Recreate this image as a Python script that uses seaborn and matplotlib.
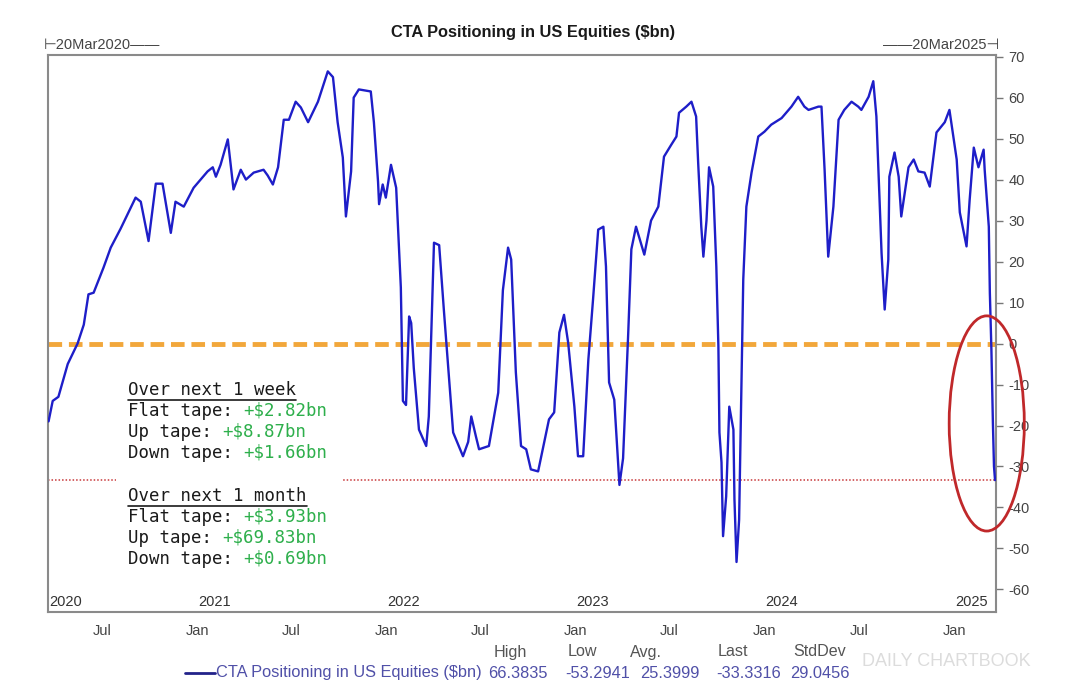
import matplotlib
matplotlib.use("Agg")
import matplotlib.pyplot as plt
import matplotlib.dates as mdates
from matplotlib.patches import Ellipse, Rectangle
import seaborn as sns
import pandas as pd

# CTA positioning, $bn
dates = [
    "2020-03-20", "2020-03-28", "2020-04-08", "2020-04-26", "2020-05-15", "2020-05-27",
    "2020-06-05", "2020-06-15", "2020-07-04", "2020-07-18", "2020-08-06", "2020-09-04",
    "2020-09-14", "2020-09-29", "2020-10-13", "2020-10-26", "2020-11-11", "2020-11-20",
    "2020-12-06", "2020-12-25", "2021-01-21", "2021-01-31", "2021-02-06", "2021-02-15",
    "2021-03-01", "2021-03-12", "2021-03-26", "2021-04-05", "2021-04-20", "2021-05-09",
    "2021-05-17", "2021-05-27", "2021-06-06", "2021-06-17", "2021-06-27", "2021-07-10",
    "2021-07-20", "2021-08-03", "2021-08-22", "2021-09-10", "2021-09-20", "2021-09-29",
    "2021-10-09", "2021-10-15", "2021-10-25", "2021-10-30", "2021-11-09", "2021-12-02",
    "2021-12-08", "2021-12-16", "2021-12-18", "2021-12-25", "2021-12-31", "2022-01-10",
    "2022-01-20", "2022-01-29", "2022-02-02", "2022-02-08", "2022-02-14", "2022-02-18",
    "2022-02-23", "2022-03-05", "2022-03-19", "2022-03-24", "2022-04-03", "2022-04-13",
    "2022-04-22", "2022-05-10", "2022-05-29", "2022-06-08", "2022-06-14", "2022-06-23",
    "2022-06-29", "2022-07-18", "2022-08-05", "2022-08-14", "2022-08-24", "2022-08-30",
    "2022-09-08", "2022-09-18", "2022-09-28", "2022-10-07", "2022-10-21", "2022-11-02",
    "2022-11-11", "2022-11-21", "2022-12-01", "2022-12-10", "2022-12-18", "2022-12-30",
    "2023-01-06", "2023-01-16", "2023-01-26", "2023-02-04", "2023-02-14", "2023-02-24",
    "2023-03-01", "2023-03-07", "2023-03-17", "2023-03-27", "2023-04-03", "2023-04-13",
    "2023-04-19", "2023-04-28", "2023-05-14", "2023-05-27", "2023-06-10", "2023-06-21",
    "2023-07-05", "2023-07-15", "2023-07-20", "2023-08-03", "2023-08-13", "2023-08-22",
    "2023-08-26", "2023-09-01", "2023-09-05", "2023-09-11", "2023-09-16", "2023-09-24",
    "2023-09-30", "2023-10-04", "2023-10-06", "2023-10-10", "2023-10-13", "2023-10-19",
    "2023-10-25", "2023-11-02", "2023-11-04", "2023-11-08", "2023-11-13", "2023-11-17",
    "2023-11-21", "2023-11-27", "2023-12-07", "2023-12-20", "2024-01-01", "2024-01-14",
    "2024-02-03", "2024-02-22", "2024-03-06", "2024-03-18", "2024-03-26", "2024-04-14",
    "2024-04-20", "2024-04-26", "2024-05-03", "2024-05-13", "2024-05-23", "2024-06-03",
    "2024-06-17", "2024-06-30", "2024-07-06", "2024-07-20", "2024-07-29", "2024-08-04",
    "2024-08-14", "2024-08-20", "2024-08-27", "2024-08-29", "2024-09-08", "2024-09-16",
    "2024-09-21", "2024-10-05", "2024-10-15", "2024-10-24", "2024-11-05", "2024-11-15",
    "2024-11-28", "2024-12-14", "2024-12-23", "2025-01-06", "2025-01-12", "2025-01-25",
    "2025-01-31", "2025-02-08", "2025-02-17", "2025-02-27", "2025-03-01", "2025-03-09",
    "2025-03-11", "2025-03-14", "2025-03-17", "2025-03-19", "2025-03-21",
]
values = [
    -19, -14, -13, -5, 0, 4.6,
    12, 12.4, 18.5, 23.4, 28, 35.6,
    34.6, 25, 39, 39, 27, 34.6,
    33.4, 38, 42, 43, 40.7, 43.6,
    49.8, 37.6, 42.4, 40, 41.7, 42.4,
    41, 38.8, 43, 54.6, 54.6, 59,
    57.6, 54, 59, 66.4, 65, 54,
    45.4, 31, 42, 60, 62, 61.5,
    54, 39.5, 34, 38.8, 35.6, 43.6,
    38, 13.7, -14, -15, 6.6, 5,
    -6, -21, -25, -17.8, 24.6, 24,
    8.3, -21.7, -27.5, -24, -17.8, -22.7,
    -25.8, -25, -12, 13, 23.4, 20.5,
    -7, -25, -25.8, -30.7, -31.2, -24,
    -18.5, -16.8, 2.7, 7, 0.2, -15.4,
    -27.5, -27.5, -3.9, 10.7, 27.8, 28.5,
    18.8, -9.5, -13.7, -34.5, -28, 2.7,
    23, 28.5, 21.7, 30, 33.4, 45.6,
    48.5, 50.5, 56.3, 57.8, 59, 55.4,
    44, 28.5, 21.2, 30, 43, 38.3,
    18.8, -0.7, -21.7, -29, -47, -37.3,
    -15.4, -21, -38, -53.3, -43, -13,
    15.6, 33.4, 41.7, 50.5, 51.7, 53.4,
    55, 57.8, 60.2, 57.8, 57, 57.8,
    57.8, 42.4, 21.2, 33.4, 54.6, 57,
    59, 57.8, 57, 60.2, 64, 55.4,
    22, 8.3, 20.5, 40.7, 46.6, 40.7,
    31, 43, 44.9, 42, 41.7, 38.3,
    51.5, 54, 57, 44.9, 32, 23.7,
    35, 47.8, 43, 47.3, 42.4, 28.5,
    12.4, -1.5, -20, -30, -33.33,
]

last_value = -33.3316
stat_names = ["High", "Low", "Avg.", "Last", "StdDev"]
stat_values = ["66.3835", "-53.2941", "25.3999", "-33.3316", "29.0456"]

tape_labels = ["Flat tape:", "Up tape:", "Down tape:"]
week_values = ["+$2.82bn", "+$8.87bn", "+$1.66bn"]
month_values = ["+$3.93bn", "+$69.83bn", "+$0.69bn"]

year_labels = ["2020", "2021", "2022", "2023", "2024", "2025"]
year_starts = ["2020-03-20", "2021-01-01", "2022-01-01", "2023-01-01", "2024-01-01", "2025-01-01"]

sns.set_style("white")
plt.rcParams["font.family"] = ["Liberation Sans", "DejaVu Sans"]
plt.rcParams["axes.unicode_minus"] = False

df = pd.DataFrame({"date": pd.to_datetime(dates), "value": values})

fig = plt.figure(figsize=(10.7, 6.96), dpi=100)
ax = fig.add_axes([0.0449, 0.1207, 0.886, 0.8003])

sns.lineplot(data=df, x="date", y="value", ax=ax, color="#1E1EC8", lw=1.7, zorder=4)
ax.axhline(0, color="#F2A73B", lw=3.5, dashes=(2.8, 1.4), zorder=2)
ax.axhline(last_value, color="#C8383A", lw=1.1, ls=(0, (1, 1.3)), zorder=2)

ax.set_xlim(mdates.date2num(pd.Timestamp("2020-03-19")), mdates.date2num(pd.Timestamp("2025-03-23")))
ax.set_ylim(-65.5, 70.4)
ax.set_xlabel("")
ax.set_ylabel("")

ax.yaxis.tick_right()
ax.set_yticks(range(-60, 71, 10))
ax.xaxis.set_major_locator(mdates.MonthLocator(bymonth=[1, 7]))
ax.xaxis.set_major_formatter(mdates.DateFormatter("%b"))
ax.tick_params(axis="both", direction="out", length=5, width=1, color="#777777",
               labelsize=10.5, labelcolor="#444444")
ax.tick_params(axis="y", pad=4)
for s in ax.spines.values():
    s.set_color("#8A8A8A")
    s.set_linewidth(1.5)

# year labels inside the bottom of the plot
for lab, d in zip(year_labels, year_starts):
    ax.text(mdates.date2num(pd.Timestamp(d)) + 2, 0.006, lab, transform=ax.get_xaxis_transform(),
            ha="left", va="bottom", fontsize=10.5, color="#333333")

# red ellipse round the last drop
ax.add_patch(Ellipse((mdates.date2num(pd.Timestamp("2025-03-05")), -19.5), width=145, height=52.5,
                     fill=False, ec="#C0282A", lw=2, clip_on=False, zorder=5))

# text box with flow estimates
ax.add_patch(Rectangle((0.072, 0.08), 0.239, 0.345, transform=ax.transAxes,
                       facecolor="white", edgecolor="none", zorder=3))
mono = dict(family="DejaVu Sans Mono", fontsize=12.5, va="center", zorder=6)
tx = 0.0844
blocks = [("Over next 1 week", week_values, 0.3986), ("Over next 1 month", month_values, 0.2083)]
fig.canvas.draw()
renderer = fig.canvas.get_renderer()
inv = ax.transAxes.inverted()
for head, vals, y0 in blocks:
    h = ax.text(tx, y0, head, color="#1A1A1A", transform=ax.transAxes, **mono)
    bb = h.get_window_extent(renderer)
    fx0, fy0 = fig.transFigure.inverted().transform((bb.x0, bb.y0 - 1))
    fx1, _ = fig.transFigure.inverted().transform((bb.x1, bb.y0 - 1))
    fig.add_artist(plt.Line2D([fx0, fx1], [fy0, fy0], color="#1A1A1A", lw=1.2, zorder=6))
    for i, (lab, v) in enumerate(zip(tape_labels, vals)):
        yy = y0 - 0.0376 * (i + 1)
        t = ax.text(tx, yy, lab, color="#1A1A1A", transform=ax.transAxes, **mono)
        bb = t.get_window_extent(renderer)
        cw = bb.width / len(lab)
        gx = inv.transform((bb.x1 + cw, 0))[0]
        ax.text(gx, yy, v, color="#2DAF4B", transform=ax.transAxes, **mono)

# titles and labels outside the axes
fig.text(0.498, 0.954, "CTA Positioning in US Equities ($bn)", ha="center", va="center",
         fontsize=11.8, fontweight="bold", color="#1A1A1A")
fig.text(0.041, 0.935, "\u22a220Mar2020\u2014\u2014", ha="left", va="center", fontsize=10.5,
         color="#444444")
fig.text(0.934, 0.935, "\u2014\u201420Mar2025\u22a3", ha="right", va="center", fontsize=10.5,
         color="#444444")

# bottom legend with stats
leg_y = 1 - 673 / 696
fig.add_artist(plt.Line2D([185 / 1070, 215 / 1070], [leg_y, leg_y], color="#22228A", lw=2))
fig.text(216 / 1070, leg_y, "CTA Positioning in US Equities ($bn)", ha="left", va="center",
         fontsize=11.8, color="#5050A8")
head_x = [527, 597, 662, 748, 846]
val_x = [488, 565, 640, 716, 790]
for name, val, hx, vx in zip(stat_names, stat_values, head_x, val_x):
    fig.text(hx / 1070, 1 - 652 / 696, name, ha="right", va="center", fontsize=11.6, color="#555555")
    fig.text(vx / 1070, leg_y, val, ha="left", va="center", fontsize=11.8, color="#5050A8")

fig.text(862 / 1070, 1 - 662 / 696, "DAILY CHARTBOOK", ha="left", va="center", fontsize=13,
         color="#DCDCDC")

fig.savefig("out.png", dpi=100)
plt.close(fig)
